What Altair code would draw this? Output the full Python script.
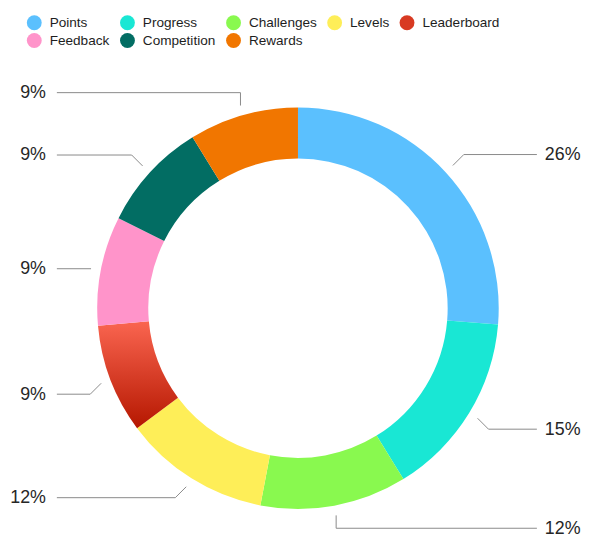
import math
import altair as alt
import pandas as pd

# ---- data ----
categories = ["Points", "Progress", "Challenges", "Levels",
              "Leaderboard", "Feedback", "Competition", "Rewards"]
values = [26.3, 14.9, 11.8, 11.8, 8.8, 8.8, 8.8, 8.8]
colors = ["#5BC0FE", "#19E7D4", "#89F94F", "#FEEE58",
          "#D83A22", "#FF94CA", "#026D63", "#F17600"]

# ---- layout ----
W, H = 573, 520
CX, CY = 292.5, 300.5
R_OUT, R_IN = 202.5, 151
R_LEAD = 212.5
LEFT_X, RIGHT_X = 49.3, 533.5
FONT = "Liberation Sans"

df = pd.DataFrame({"cat": categories, "value": values,
                   "idx": list(range(len(categories)))})

# leader lines derived from slice mid-angles
total = sum(values)
line_rows, lab_rows = [], []
cum = 0.0
for c, v in zip(categories, values):
    mid = (cum + v / 2) / total * 2 * math.pi
    cum += v
    s, co = math.sin(mid), math.cos(mid)
    x0, y0 = CX + R_LEAD * s, CY - R_LEAD * co
    side = 1 if s > 0 else -1
    if abs(s) < 0.3:
        x1, y1 = x0, y0 + (-13 if co > 0 else 13)
    elif abs(co) < 0.25:
        x1, y1 = x0, y0
    else:
        x1, y1 = x0 + side * 11, y0 + (-11 if co > 0 else 11)
    x2 = RIGHT_X if side > 0 else LEFT_X
    for k, (xx, yy) in enumerate([(x0, y0), (x1, y1), (x2, y1)]):
        line_rows.append({"cat": c, "k": k, "x": xx, "y": yy})
    lab_rows.append({"cat": c, "pct": v / 100.0,
                     "x": x2 + (8 if side > 0 else -11), "y": y1 + 0.5,
                     "side": "R" if side > 0 else "L"})

lines_df = pd.DataFrame(line_rows)
labs_df = pd.DataFrame(lab_rows)

gradient = {"gradient": "linear", "x1": 0, "y1": 0, "x2": 0, "y2": 1,
            "stops": [{"offset": 0, "color": "#FA6550"},
                      {"offset": 1, "color": "#B51700"}]}

legend = alt.Legend(title=None, orient="none", legendX=19, legendY=5,
                    direction="horizontal", columns=5, symbolType="circle",
                    symbolSize=225, symbolStrokeWidth=0, labelFont=FONT,
                    labelFontSize=13.7, labelColor="#1e1e1e", labelOffset=8,
                    rowPadding=3, columnPadding=10)

arc = alt.Chart(df).mark_arc(outerRadius=R_OUT, innerRadius=R_IN).encode(
    theta=alt.Theta("value:Q", stack=True),
    order=alt.Order("idx:Q"),
    x=alt.value(CX),
    y=alt.value(CY),
    color=alt.condition(
        alt.datum.cat == "Leaderboard",
        alt.value(gradient),
        alt.Color("cat:N", scale=alt.Scale(domain=categories, range=colors),
                  sort=categories, legend=legend),
    ),
)

leaders = alt.Chart(lines_df).mark_line(color="#8a8a8a", strokeWidth=1).encode(
    x=alt.X("x:Q", scale=None, axis=None),
    y=alt.Y("y:Q", scale=None, axis=None),
    detail="cat:N",
    order="k:Q",
)

text_base = alt.Chart(labs_df).encode(
    x=alt.X("x:Q", scale=None, axis=None),
    y=alt.Y("y:Q", scale=None, axis=None),
    text=alt.Text("pct:Q", format=".0%"),
)
text_left = text_base.transform_filter(alt.datum.side == "L").mark_text(
    align="right", baseline="middle", font=FONT, fontSize=18, color="#262626")
text_right = text_base.transform_filter(alt.datum.side == "R").mark_text(
    align="left", baseline="middle", font=FONT, fontSize=18, color="#262626")

chart = alt.layer(arc, leaders, text_left, text_right).properties(
    width=W, height=H, padding=0
).configure_view(stroke=None)

chart.save("out.html", embed_options={"renderer": "svg", "actions": False})
